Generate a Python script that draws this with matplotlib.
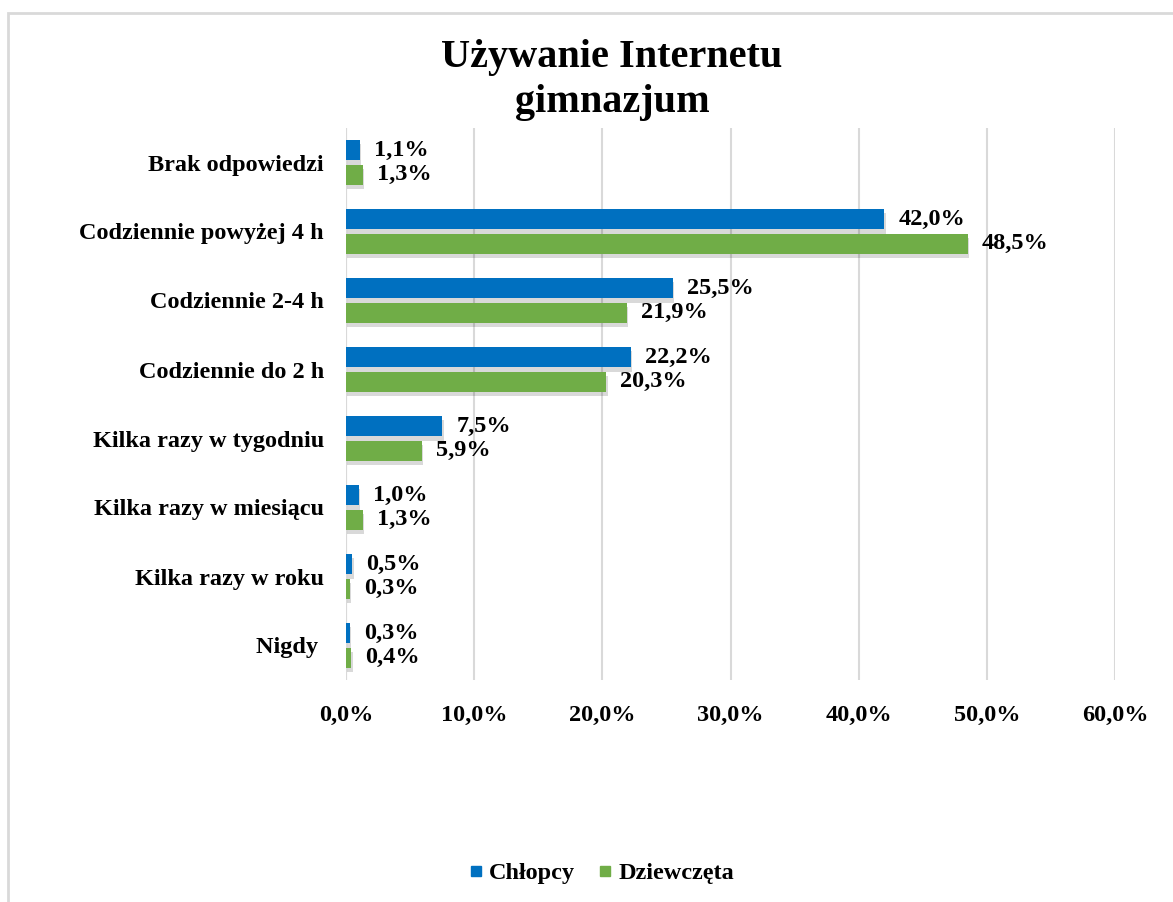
import matplotlib
matplotlib.use("Agg")
import matplotlib.pyplot as plt
import matplotlib.patheffects as pe
import numpy as np
from matplotlib.patches import Rectangle
from matplotlib.lines import Line2D

plt.rcParams['font.family'] = ['Liberation Serif', 'DejaVu Serif']
plt.rcParams['font.weight'] = 'bold'

categories = ["Brak odpowiedzi", "Codziennie powyżej 4 h", "Codziennie 2-4 h",
              "Codziennie do 2 h", "Kilka razy w tygodniu", "Kilka razy w miesiącu",
              "Kilka razy w roku", "Nigdy "]
chlopcy = [1.1, 42.0, 25.5, 22.2, 7.5, 1.0, 0.5, 0.3]
dziewczeta = [1.3, 48.5, 21.9, 20.3, 5.9, 1.3, 0.3, 0.4]
xticks = [0, 10, 20, 30, 40, 50, 60]
title = "Używanie Internetu\ngimnazjum"
series_names = ["Chłopcy", "Dziewczęta"]

blue = "#0070C0"
green = "#70AD47"
FS = 17.5

fig = plt.figure(figsize=(11.73, 9.02), dpi=100)
fig.patches.append(Rectangle((8/1173, -0.01), 1.2, (902-13)/902 + 0.01,
                             transform=fig.transFigure, fill=False,
                             edgecolor="#d9d9d9", linewidth=2))

ax = fig.add_axes([346/1173, 1-680/902, (1115-346)/1173, (680-128)/902])

n = len(categories)
y = np.arange(n)
h = 0.30
gap = 0.03
b1 = ax.barh(y - (h/2 + gap), chlopcy, height=h, color=blue, label=series_names[0], zorder=3)
b2 = ax.barh(y + (h/2 + gap), dziewczeta, height=h, color=green, label=series_names[1], zorder=3)
for bars in (b1, b2):
    for r in bars:
        r.set_path_effects([pe.SimplePatchShadow(offset=(1, -3), shadow_rgbFace="black", alpha=0.15), pe.Normal()])

def fmt(v):
    return f"{v:.1f}%".replace(".", ",")

for yi, v in zip(y, chlopcy):
    ax.text(v + 1.1, yi - (h/2 + gap), fmt(v), va="center", ha="left",
            fontsize=FS, fontweight="bold")
for yi, v in zip(y, dziewczeta):
    ax.text(v + 1.1, yi + (h/2 + gap), fmt(v), va="center", ha="left",
            fontsize=FS, fontweight="bold")

ax.set_xlim(0, 60)
ax.set_ylim(n - 0.5, -0.5)
ax.set_xticks(xticks)
ax.set_xticklabels([fmt(t) for t in xticks], fontsize=FS, fontweight="bold")
ax.set_yticks(y)
ax.set_yticklabels(categories, fontsize=FS, fontweight="bold")
ax.tick_params(axis="both", length=0)
ax.tick_params(axis="x", pad=18)
ax.tick_params(axis="y", pad=16)
ax.grid(axis="x", color="#d9d9d9", linewidth=1.5, zorder=0)
for s in ax.spines.values():
    s.set_visible(False)
ax.axvline(0, color="#d9d9d9", linewidth=1.5, zorder=1)

fig.text(612/1173, 1-80/902, title, ha="center", va="center", fontsize=29,
         fontweight="bold", linespacing=1.3)

handles = [Line2D([], [], marker="s", linestyle="", color=c, markersize=7, label=l)
           for c, l in zip([blue, green], series_names)]
fig.legend(handles=handles, loc="center", bbox_to_anchor=(602/1173, 1-873/902),
           ncol=2, frameon=False, prop={"size": FS, "weight": "bold"},
           handlelength=0.5, handletextpad=0.3, columnspacing=1.0)

fig.savefig("out.png", dpi=100)
